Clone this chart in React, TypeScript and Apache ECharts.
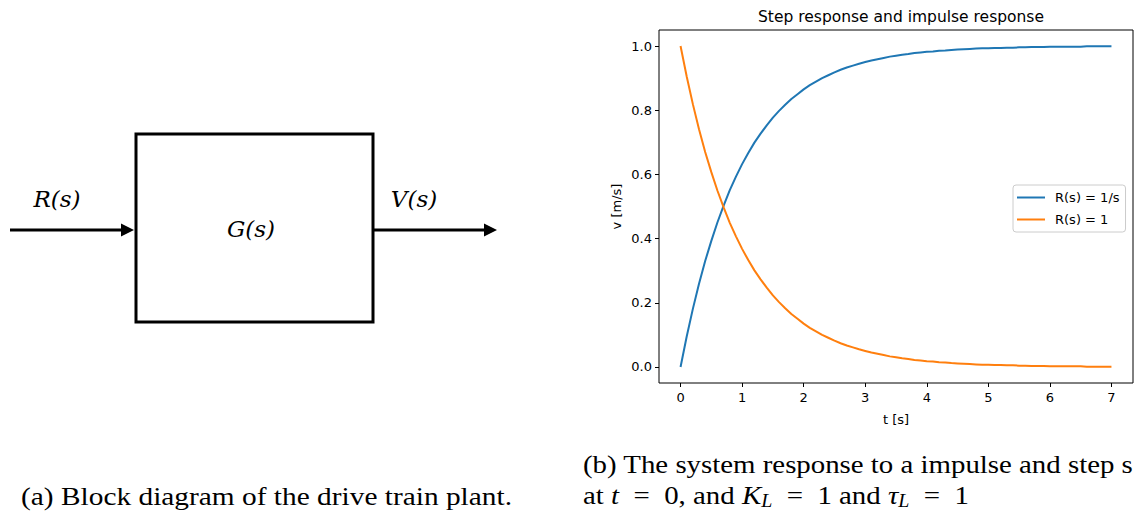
import React, { useEffect, useRef } from "react";
import * as echarts from "echarts";

// Time axis (s)
const time = [
  0.0, 0.1, 0.2, 0.3, 0.4, 0.5, 0.6, 0.7, 0.8, 0.9,
  1.0, 1.1, 1.2, 1.3, 1.4, 1.5, 1.6, 1.7, 1.8, 1.9,
  2.0, 2.1, 2.2, 2.3, 2.4, 2.5, 2.6, 2.7, 2.8, 2.9,
  3.0, 3.1, 3.2, 3.3, 3.4, 3.5, 3.6, 3.7, 3.8, 3.9,
  4.0, 4.1, 4.2, 4.3, 4.4, 4.5, 4.6, 4.7, 4.8, 4.9,
  5.0, 5.1, 5.2, 5.3, 5.4, 5.5, 5.6, 5.7, 5.8, 5.9,
  6.0, 6.1, 6.2, 6.3, 6.4, 6.5, 6.6, 6.7, 6.8, 6.9, 7.0,
];

// Step response, R(s) = 1/s
const stepResponse = [
  0.0, 0.095, 0.181, 0.259, 0.33, 0.393, 0.451, 0.503, 0.551, 0.593,
  0.632, 0.667, 0.699, 0.727, 0.753, 0.777, 0.798, 0.817, 0.835, 0.85,
  0.865, 0.878, 0.889, 0.9, 0.909, 0.918, 0.926, 0.933, 0.939, 0.945,
  0.95, 0.955, 0.959, 0.963, 0.967, 0.97, 0.973, 0.975, 0.978, 0.98,
  0.982, 0.983, 0.985, 0.986, 0.988, 0.989, 0.99, 0.991, 0.992, 0.993,
  0.993, 0.994, 0.994, 0.995, 0.995, 0.996, 0.996, 0.997, 0.997, 0.997,
  0.998, 0.998, 0.998, 0.998, 0.998, 0.998, 0.999, 0.999, 0.999, 0.999, 0.999,
];

// Impulse response, R(s) = 1
const impulseResponse = [
  1.0, 0.905, 0.819, 0.741, 0.67, 0.607, 0.549, 0.497, 0.449, 0.407,
  0.368, 0.333, 0.301, 0.273, 0.247, 0.223, 0.202, 0.183, 0.165, 0.15,
  0.135, 0.122, 0.111, 0.1, 0.091, 0.082, 0.074, 0.067, 0.061, 0.055,
  0.05, 0.045, 0.041, 0.037, 0.033, 0.03, 0.027, 0.025, 0.022, 0.02,
  0.018, 0.017, 0.015, 0.014, 0.012, 0.011, 0.01, 0.009, 0.008, 0.007,
  0.007, 0.006, 0.006, 0.005, 0.005, 0.004, 0.004, 0.003, 0.003, 0.003,
  0.002, 0.002, 0.002, 0.002, 0.002, 0.002, 0.001, 0.001, 0.001, 0.001, 0.001,
];

const xTicks = [0, 1, 2, 3, 4, 5, 6, 7];
const yTicks = [0.0, 0.2, 0.4, 0.6, 0.8, 1.0];
const seriesNames = ["R(s) = 1/s", "R(s) = 1"];

const FONT = "DejaVu Sans";
const SERIF = "Liberation Serif";

export default function App() {
  const ref = useRef<HTMLDivElement>(null);

  useEffect(() => {
    document.body.style.margin = "0";
    const chart = echarts.init(ref.current!, null, { renderer: "svg" });

    const blk = "#000";
    const capStyle = { fontFamily: SERIF, fontSize: 26, fill: "#000" };
    const mathLabel = {
      fontFamily: "DejaVu Serif",
      fontStyle: "italic",
      fontSize: 23,
      fill: blk,
      align: "center",
      verticalAlign: "middle",
    };

    chart.setOption({
      animation: false,
      backgroundColor: "#fff",
      title: {
        text: "Step response and impulse response",
        left: 896,
        top: 4,
        textAlign: "center",
        textStyle: { fontFamily: FONT, fontSize: 15.5, fontWeight: "normal", color: "#000" },
      },
      grid: {
        left: 659,
        right: 1,
        top: 30,
        bottom: 130,
        show: true,
        borderColor: "#000",
        borderWidth: 1,
        backgroundColor: "transparent",
      },
      legend: {
        orient: "vertical",
        left: 1013,
        top: 185,
        itemWidth: 28,
        itemHeight: 2,
        itemGap: 9,
        padding: [6, 6, 6, 4],
        borderColor: "#ccc",
        borderWidth: 1,
        borderRadius: 3,
        backgroundColor: "#fff",
        textStyle: { fontFamily: FONT, fontSize: 13, color: "#000", padding: [0, 0, 0, 5] },
        data: seriesNames.map((n) => ({ name: n, icon: "rect" })),
      },
      xAxis: {
        type: "value",
        min: -0.35,
        max: 7.35,
        name: "t [s]",
        nameLocation: "middle",
        nameGap: 30,
        nameTextStyle: { fontFamily: FONT, fontSize: 13, color: "#000" },
        axisLine: { show: false, onZero: false },
        splitLine: { show: false },
        axisTick: {
          show: true,
          inside: false,
          length: 4,
          customValues: xTicks,
          lineStyle: { color: "#000" },
        },
        axisLabel: {
          customValues: xTicks,
          fontFamily: FONT,
          fontSize: 13,
          color: "#000",
          margin: 8,
          formatter: (v: number) => String(Math.round(v)),
        },
      },
      yAxis: {
        type: "value",
        min: -0.05,
        max: 1.05,
        name: "v [m/s]",
        nameLocation: "middle",
        nameGap: 36,
        nameTextStyle: { fontFamily: FONT, fontSize: 13, color: "#000" },
        axisLine: { show: false, onZero: false },
        splitLine: { show: false },
        axisTick: {
          show: true,
          inside: false,
          length: 4,
          customValues: yTicks,
          lineStyle: { color: "#000" },
        },
        axisLabel: {
          customValues: yTicks,
          fontFamily: FONT,
          fontSize: 13,
          color: "#000",
          margin: 7,
          formatter: (v: number) => v.toFixed(1),
        },
      },
      series: [
        {
          name: seriesNames[0],
          type: "line",
          showSymbol: false,
          symbol: "none",
          data: time.map((t, i) => [t, stepResponse[i]]),
          lineStyle: { color: "#1f77b4", width: 2 },
          itemStyle: { color: "#1f77b4" },
        },
        {
          name: seriesNames[1],
          type: "line",
          showSymbol: false,
          symbol: "none",
          data: time.map((t, i) => [t, impulseResponse[i]]),
          lineStyle: { color: "#ff7f0e", width: 2 },
          itemStyle: { color: "#ff7f0e" },
        },
      ],
      graphic: [
        // Block diagram
        {
          type: "rect",
          shape: { x: 136, y: 134, width: 237, height: 188 },
          style: { fill: "none", stroke: blk, lineWidth: 3 },
        },
        {
          type: "line",
          shape: { x1: 10, y1: 230, x2: 124, y2: 230 },
          style: { stroke: blk, lineWidth: 3 },
        },
        {
          type: "polygon",
          shape: { points: [[121, 223.5], [134, 230], [121, 236.5]] },
          style: { fill: blk },
        },
        {
          type: "line",
          shape: { x1: 374, y1: 230, x2: 486, y2: 230 },
          style: { stroke: blk, lineWidth: 3 },
        },
        {
          type: "polygon",
          shape: { points: [[484, 223.5], [497, 230], [484, 236.5]] },
          style: { fill: blk },
        },
        { type: "text", x: 57, y: 199, style: { ...mathLabel, text: "R(s)" } },
        { type: "text", x: 414, y: 199, style: { ...mathLabel, text: "V(s)" } },
        { type: "text", x: 251, y: 229, style: { ...mathLabel, text: "G(s)" } },
        // Captions
        {
          type: "text",
          x: 21,
          y: 496,
          scaleX: 1.13,
          style: {
            ...capStyle,
            text: "(a) Block diagram of the drive train plant.",
            verticalAlign: "middle",
          },
        },
        {
          type: "text",
          x: 583,
          y: 464,
          scaleX: 1.11,
          style: {
            ...capStyle,
            text: "(b) The system response to a impulse and step s",
            verticalAlign: "middle",
          },
        },
        {
          type: "text",
          x: 583,
          y: 495,
          scaleX: 1.11,
          style: {
            ...capStyle,
            text: "at {i|t}\u2002=\u20020, and {i|K}{s|L}\u2002=\u20021 and {i|τ}{s|L}\u2002=\u20021",
            verticalAlign: "middle",
            rich: {
              i: { fontFamily: SERIF, fontSize: 26, fontStyle: "italic" },
              s: { fontFamily: SERIF, fontSize: 18, fontStyle: "italic", verticalAlign: "bottom", padding: [11, 0, 0, 0] },
            },
          },
        },
      ],
    });

    return () => chart.dispose();
  }, []);

  return <div ref={ref} style={{ width: 1134, height: 513 }} />;
}
